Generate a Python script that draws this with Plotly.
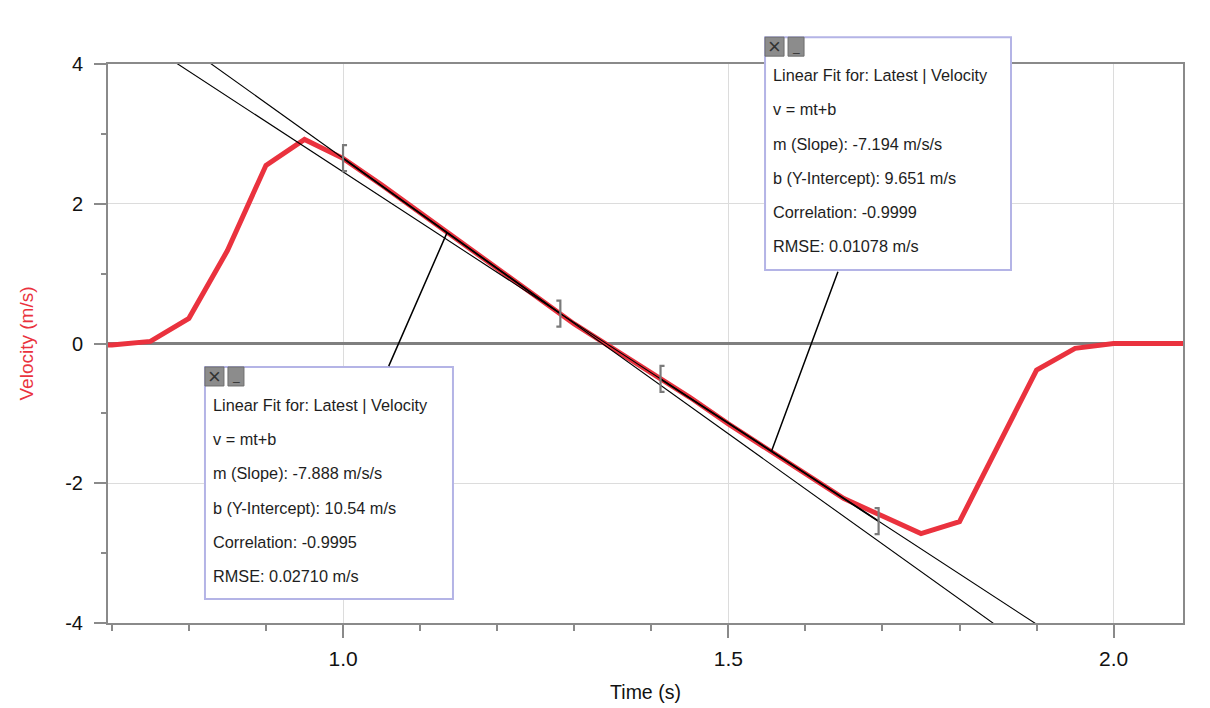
import plotly.graph_objects as go

# ---------------- data ----------------
time_s = [0.65, 0.70, 0.75, 0.80, 0.85, 0.90, 0.95, 1.00, 1.05, 1.10, 1.15, 1.20,
          1.25, 1.30, 1.35, 1.40, 1.45, 1.50, 1.55, 1.60, 1.65, 1.70, 1.75, 1.80,
          1.85, 1.90, 1.95, 2.00, 2.05, 2.10]
velocity = [-0.05, -0.02, 0.03, 0.36, 1.33, 2.55, 2.92, 2.65, 2.27, 1.87, 1.47, 1.07,
            0.68, 0.28, -0.07, -0.42, -0.77, -1.15, -1.51, -1.87, -2.22, -2.47, -2.72, -2.55,
            -1.45, -0.38, -0.07, 0.0, 0.0, 0.0]

fit_slopes = [-7.888, -7.194]
fit_intercepts = [10.54, 9.651]
fit_starts = [1.000, 1.412]
fit_ends = [1.282, 1.695]
fit_corr = ["-0.9995", "-0.9999"]
fit_rmse = ["0.02710", "0.01078"]

x_range = [0.695, 2.09]
y_range = [-4, 4]
x_ticks = [1.0, 1.5, 2.0]
x_ticklabels = ["1.0", "1.5", "2.0"]
y_ticks = [-4, -2, 0, 2, 4]
y_ticklabels = ["-4", "-2", "0", "2", "4"]

RED = "rgb(234,50,62)"
GRAY = "#8a8a8a"
FONT = "Liberation Sans"

# plot area size in px (for paper conversions)
PW, PH = 1075, 559

fig = go.Figure()

fig.add_trace(go.Scatter(x=time_s, y=velocity, mode="lines",
                         line=dict(color=RED, width=5), hoverinfo="skip"))

for m, b, t0, t1 in zip(fit_slopes, fit_intercepts, fit_starts, fit_ends):
    xs = [x_range[0], x_range[1]]
    fig.add_trace(go.Scatter(x=xs, y=[m * x + b for x in xs], mode="lines",
                             line=dict(color="black", width=1.1), hoverinfo="skip"))
    fig.add_trace(go.Scatter(x=[t0, t1], y=[m * t0 + b, m * t1 + b], mode="lines",
                             line=dict(color="black", width=1.8), hoverinfo="skip"))

shapes = []
annotations = []

# brackets marking fit ranges
for m, b, t0, t1 in zip(fit_slopes, fit_intercepts, fit_starts, fit_ends):
    for t, path in ((t0, "M 4,-13 L 0,-13 L 0,13 L 4,13"), (t1, "M -4,-13 L 0,-13 L 0,13 L -4,13")):
        shapes.append(dict(type="path", xref="x", yref="y", xsizemode="pixel", ysizemode="pixel",
                           xanchor=t, yanchor=m * t + b, path=path,
                           line=dict(color="#7a7a7a", width=2.2), layer="above"))

# info boxes (paper coordinates) : x0, x1, ytop, ybottom
boxes = [(0.0902, 0.3209, 0.458, 0.0429), (0.6112, 0.8400, 1.048, 0.6315)]
conn = [(1.135, -59, 135), (1.556, 67, -181)]

for i, (bx0, bx1, byt, byb) in enumerate(boxes):
    shapes.append(dict(type="rect", xref="paper", yref="paper", x0=bx0, x1=bx1, y0=byb, y1=byt,
                       fillcolor="white", line=dict(color="#b4b4e6", width=2), layer="above"))
    # buttons
    bw = 19 / PW
    bh = 19 / PH
    shapes.append(dict(type="rect", xref="paper", yref="paper", x0=bx0, x1=bx0 + bw,
                       y0=byt - bh, y1=byt, fillcolor="#8c8c8c",
                       line=dict(color="#6e6e6e", width=1), layer="above"))
    shapes.append(dict(type="rect", xref="paper", yref="paper", x0=bx0 + 23 / PW, x1=bx0 + 39 / PW,
                       y0=byt - bh, y1=byt, fillcolor="#8c8c8c",
                       line=dict(color="#6e6e6e", width=1), layer="above"))
    annotations.append(dict(xref="paper", yref="paper", x=bx0 + bw / 2, y=byt - bh / 2,
                            text="×", showarrow=False, font=dict(family=FONT, size=22, color="#333"),
                            xanchor="center", yanchor="middle"))
    annotations.append(dict(xref="paper", yref="paper", x=bx0 + 31 / PW, y=byt - bh / 2,
                            text="_", showarrow=False, font=dict(family=FONT, size=12, color="#333"),
                            xanchor="center", yanchor="middle"))
    lines = ["Linear Fit for: Latest | Velocity",
             "v = mt+b",
             f"m (Slope): {fit_slopes[i]:.3f} m/s/s",
             f"b (Y-Intercept): {fit_intercepts[i]:.4g} m/s",
             f"Correlation: {fit_corr[i]}",
             f"RMSE: {fit_rmse[i]} m/s"]
    for j, txt in enumerate(lines):
        annotations.append(dict(xref="paper", yref="paper", x=bx0 + 6 / PW,
                                y=byt - (38 + 34.2 * j) / PH, text=txt, showarrow=False,
                                xanchor="left", yanchor="middle",
                                font=dict(family=FONT, size=16.3, color="#1e1e1e")))
    t, ax, ay = conn[i]
    annotations.append(dict(xref="x", yref="y", x=t, y=fit_slopes[i] * t + fit_intercepts[i],
                            text="", showarrow=True, arrowhead=0, arrowwidth=1.5,
                            arrowcolor="black", ax=ax, ay=ay, standoff=0, startstandoff=0))

fig.update_layout(
    width=1202, height=700,
    margin=dict(l=100, r=27, t=56, b=85, autoexpand=False),
    plot_bgcolor="white", paper_bgcolor="white",
    showlegend=False,
    shapes=shapes, annotations=annotations,
    font=dict(family=FONT, color="black"),
    xaxis=dict(range=x_range, tickmode="array", tickvals=x_ticks, ticktext=x_ticklabels,
               automargin=False,
               showgrid=True, gridcolor="#dcdcdc", gridwidth=1,
               showline=True, linecolor=GRAY, linewidth=2, mirror=True,
               ticks="outside", ticklen=13, tickcolor=GRAY, tickwidth=1.5,
               tickfont=dict(size=21, family=FONT, color="#111"), ticklabelstandoff=3,
               minor=dict(dtick=0.1, tick0=0, ticks="outside", ticklen=6, tickcolor=GRAY,
                          tickwidth=1.5, showgrid=False),
               zeroline=False,
               title=dict(text="Time (s)", font=dict(size=19.5, family=FONT, color="#111"), standoff=16)),
    yaxis=dict(range=y_range, tickmode="array", tickvals=y_ticks, ticktext=y_ticklabels,
               automargin=False,
               showgrid=True, gridcolor="#dcdcdc", gridwidth=1,
               showline=True, linecolor=GRAY, linewidth=2, mirror=True,
               ticks="outside", ticklen=12, tickcolor=GRAY, tickwidth=1.5,
               tickfont=dict(size=20, family=FONT, color="#111"), ticklabelstandoff=7,
               minor=dict(dtick=1, tick0=0, ticks="outside", ticklen=5, tickcolor=GRAY,
                          tickwidth=1.5, showgrid=False),
               zeroline=True, zerolinecolor="#7f7f7f", zerolinewidth=3,
               title=dict(text="Velocity (m/s)", font=dict(size=19, family=FONT, color=RED), standoff=27)),
)

fig.write_html("out.html")
